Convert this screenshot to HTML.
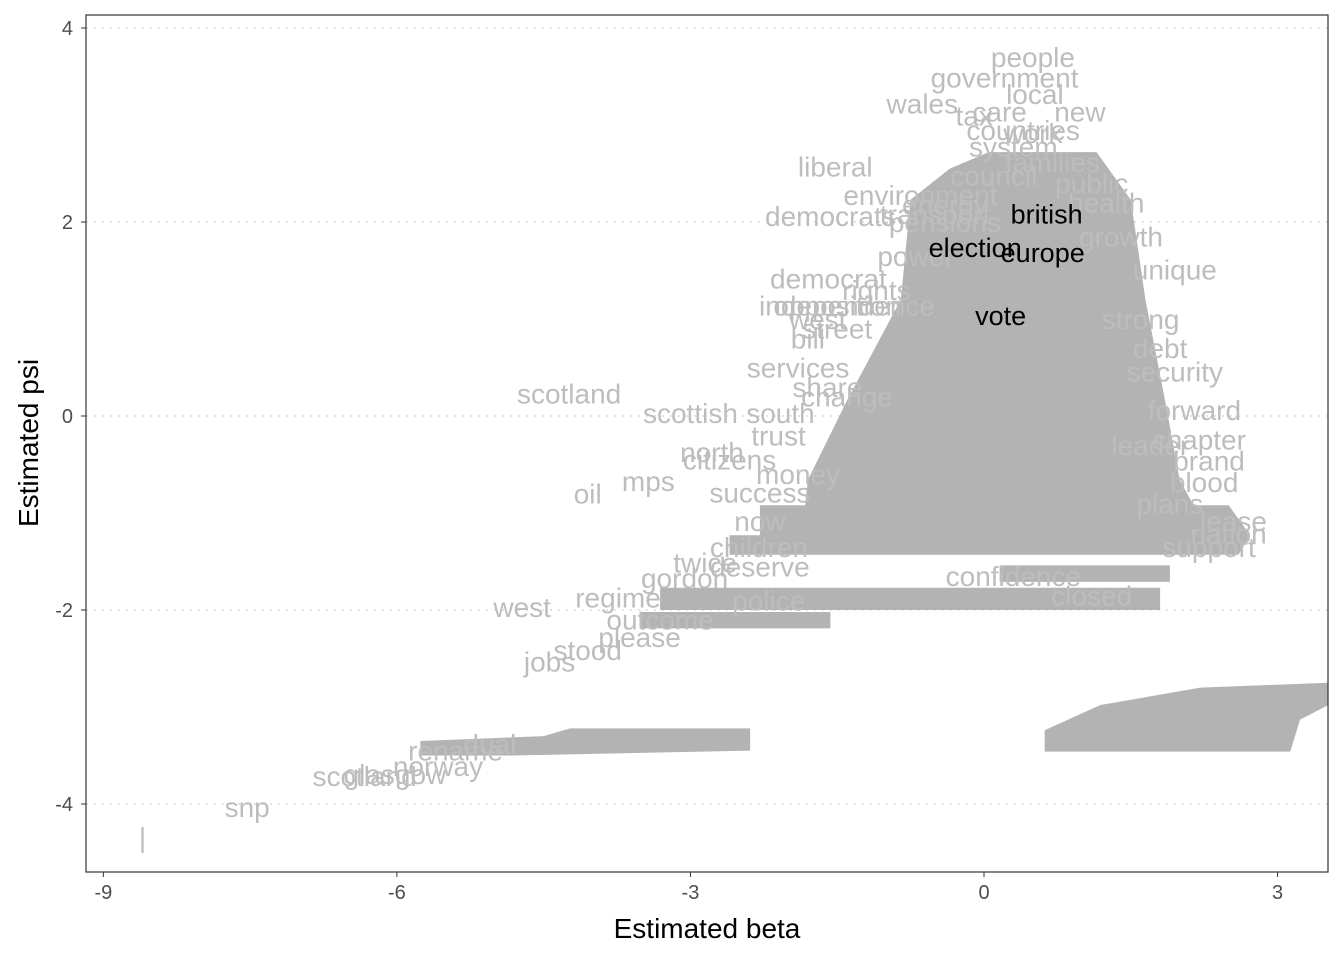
<!DOCTYPE html>
<html><head><meta charset="utf-8"><style>
html,body{margin:0;padding:0;background:#fff;}
svg{display:block;font-family:"Liberation Sans",sans-serif;}
</style></head><body>
<svg id="chart" width="1344" height="960" viewBox="0 0 1344 960">
<rect x="0" y="0" width="1344" height="960" fill="#fff"/>
<g id="grid"></g>
<g id="blobs"></g>
<g id="words"></g>
<rect x="86" y="15" width="1242" height="857" fill="none" stroke="#333" stroke-width="1.2"/>
<g id="axes"></g>
<text x="707" y="938" font-size="28" text-anchor="middle" fill="#000">Estimated beta</text>
<text transform="translate(38,443) rotate(-90)" font-size="28" text-anchor="middle" fill="#000">Estimated psi</text>
</svg>
<script>
const xTicks=[-9,-6,-3,0,3];
const yTicks=[-4,-2,0,2,4];
const greyWords=["people","government","local","wales","care","new","tax","liberal","democrats","democrat","scotland","scottish","south","north","citizens","oil","mps","success","now","twice","deserve","gordon","west","regime","outcome","please","stood","jobs","norway","glasgow","scotland","snp","rename","dual","forward","chapter","blood","lease","nation","brand","unique","security","west","independence","opposition","bill","confidence","environment","energy","transport","pensions","services","closed","|","work","system","families","council","public","countries","health","power","growth","rights","strong","street","debt","share","trust","change","leader","plans","money","children","support","police"];
const greyBeta=[0.50,0.21,0.52,-0.63,0.16,0.98,-0.10,-1.52,-1.57,-1.59,-4.24,-3.00,-2.08,-2.78,-2.60,-4.05,-3.43,-2.29,-2.29,-2.85,-2.29,-3.06,-4.72,-3.74,-3.31,-3.52,-4.05,-4.44,-5.58,-6.02,-6.33,-7.53,-5.40,-5.05,2.15,2.20,2.25,2.55,2.50,2.30,1.95,1.95,-1.70,-1.40,-1.50,-1.80,0.30,-0.65,-0.40,-0.50,-0.40,-1.90,1.10,-8.60,0.50,0.30,0.70,0.10,1.10,0.40,1.25,-0.70,1.40,-1.10,1.60,-1.50,1.80,-1.60,-2.10,-1.40,1.70,1.90,-1.90,-2.30,2.30,-2.20];
const greyPsi=[3.70,3.49,3.32,3.22,3.14,3.14,3.10,2.57,2.06,1.42,0.23,0.03,0.03,-0.37,-0.45,-0.80,-0.67,-0.79,-1.08,-1.51,-1.55,-1.67,-1.97,-1.87,-2.10,-2.28,-2.41,-2.53,-3.61,-3.69,-3.71,-4.03,-3.45,-3.38,0.06,-0.24,-0.68,-1.08,-1.21,-0.46,1.51,0.46,1.00,1.14,1.14,0.80,-1.65,2.28,2.18,2.08,2.00,0.50,-1.85,-4.34,2.92,2.78,2.62,2.48,2.40,2.95,2.20,1.65,1.85,1.30,1.00,0.90,0.70,0.30,-0.20,0.20,-0.30,-0.90,-0.60,-1.35,-1.35,-1.90];
const blackWords=["british","election","europe","vote"];
const blackBeta=[0.64,-0.09,0.60,0.17];
const blackPsi=[2.09,1.74,1.69,1.04];
const clusterTop=[[0.05,2.72],[1.15,2.72],[1.50,2.23],[1.65,1.20],[1.85,0.16],[2.00,-0.66],[2.25,-1.12],[-1.85,-1.12],[-1.80,-0.66],[-1.40,0.16],[-0.85,1.20],[-0.75,2.23],[-0.35,2.55]];
const clusterBand1=[[-2.29,-0.92],[2.5,-0.92],[2.72,-1.23],[2.6,-1.43],[-2.6,-1.43],[-2.6,-1.23],[-2.29,-1.23]];
const clusterBand2=[[0.16,-1.54],[1.90,-1.54],[1.90,-1.71],[0.16,-1.71]];
const clusterBand3=[[-3.31,-1.77],[1.80,-1.77],[1.80,-2.0],[-3.31,-2.0]];
const clusterBand3b=[[-3.52,-2.02],[-1.57,-2.02],[-1.57,-2.19],[-3.52,-2.19]];
const clusterLowLeft=[[-4.23,-3.22],[-2.39,-3.22],[-2.39,-3.45],[-4.8,-3.5],[-5.76,-3.5],[-5.76,-3.35],[-4.5,-3.3]];
const clusterRight=[[0.62,-3.24],[1.19,-2.98],[2.21,-2.80],[3.52,-2.75],[3.52,-2.98],[3.23,-3.13],[3.13,-3.46],[0.62,-3.46]];

const X=b=>984+b*97.85;
const Y=p=>416-p*97;
const NS="http://www.w3.org/2000/svg";
function mk(t,parent){const e=document.createElementNS(NS,t);parent.appendChild(e);return e;}
const grid=document.getElementById('grid'),axes=document.getElementById('axes'),blobs=document.getElementById('blobs'),words=document.getElementById('words');
yTicks.forEach(v=>{
  const l=mk('line',grid);
  
  
  l.setAttribute('x1',86);l.setAttribute('x2',1328);l.setAttribute('y1',Y(v));l.setAttribute('y2',Y(v));
  l.setAttribute('stroke','#e3e3e3');l.setAttribute('stroke-width','2');l.setAttribute('stroke-dasharray','2 6');
  const tk=mk('line',axes);
  
  
  tk.setAttribute('x1',81);tk.setAttribute('x2',86);tk.setAttribute('y1',Y(v));tk.setAttribute('y2',Y(v));tk.setAttribute('stroke','#333');
  const t=mk('text',axes);
  
  
  t.setAttribute('x',73);t.setAttribute('y',Y(v)+7);t.setAttribute('text-anchor','end');t.setAttribute('font-size','20');t.setAttribute('fill','#4d4d4d');
  t.textContent=v;
});
xTicks.forEach(v=>{
  const tk=mk('line',axes);
  
  
  tk.setAttribute('x1',X(v));tk.setAttribute('x2',X(v));tk.setAttribute('y1',872);tk.setAttribute('y2',877);tk.setAttribute('stroke','#333');
  const t=mk('text',axes);
  
  
  t.setAttribute('x',X(v));t.setAttribute('y',899);t.setAttribute('text-anchor','middle');t.setAttribute('font-size','20');t.setAttribute('fill','#4d4d4d');
  t.textContent=v;
});
[clusterTop,clusterBand1,clusterBand2,clusterBand3,clusterBand3b,clusterLowLeft,clusterRight].forEach(poly=>{
  const p=mk('polygon',blobs);
  
  
  p.setAttribute('points',poly.map(d=>X(d[0])+','+Y(d[1])).join(' '));
  p.setAttribute('fill','#b3b3b3');
});
greyWords.forEach((w,i)=>{
  const t=mk('text',words);
  
  
  t.setAttribute('x',X(greyBeta[i]));t.setAttribute('y',Y(greyPsi[i])+10);
  t.setAttribute('text-anchor','middle');t.setAttribute('font-size','28');t.setAttribute('fill','#bdbdbd');
  t.textContent=w;
});
blackWords.forEach((w,i)=>{
  const t=mk('text',words);
  
  
  t.setAttribute('x',X(blackBeta[i]));t.setAttribute('y',Y(blackPsi[i])+10);
  t.setAttribute('text-anchor','middle');t.setAttribute('font-size','27');t.setAttribute('fill','#000');
  t.textContent=w;
});
</script>
</body></html>
